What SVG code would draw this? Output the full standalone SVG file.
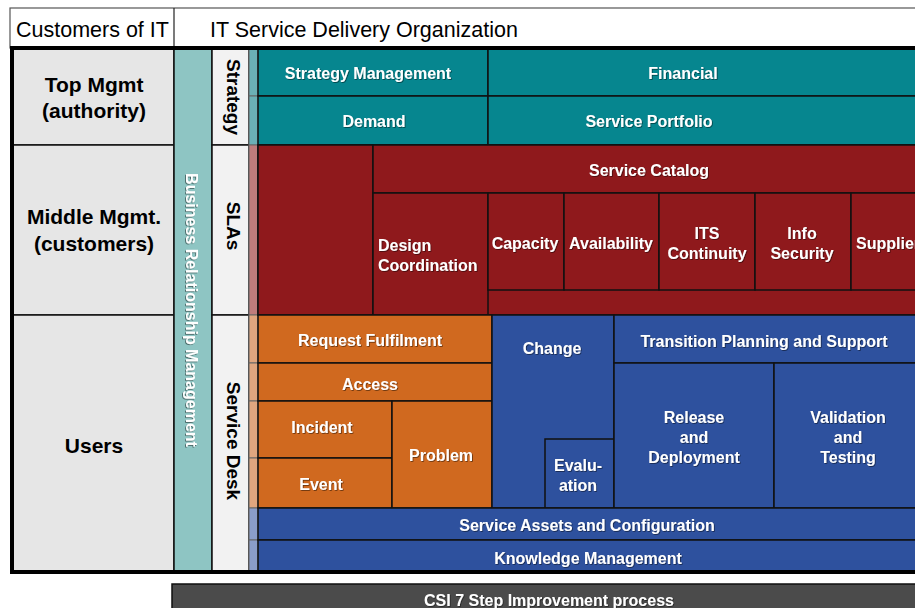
<svg xmlns="http://www.w3.org/2000/svg" width="915" height="608" viewBox="0 0 915 608">
<defs>
<style>
.b{stroke:#111;stroke-width:1.5}
.teal{fill:#06868f}
.red{fill:#8f191c}
.org{fill:#d0691f}
.blu{fill:#2e519e}
.w{font-family:"Liberation Sans",Arial,sans-serif;font-weight:bold;font-size:16px;fill:#fff;text-anchor:middle;filter:url(#sh)}
.wl{text-anchor:start}
.k{font-family:"Liberation Sans",Arial,sans-serif;font-weight:bold;font-size:21px;fill:#000;text-anchor:middle}
.v{font-family:"Liberation Sans",Arial,sans-serif;font-weight:bold;font-size:19px;fill:#000;text-anchor:middle}
.h{font-family:"Liberation Sans",Arial,sans-serif;font-size:21.5px;fill:#000}
</style>
<filter id="sh" x="-10%" y="-30%" width="120%" height="160%">
<feDropShadow dx="0.8" dy="0.8" stdDeviation="0.4" flood-color="#000" flood-opacity="0.55"/>
</filter>
</defs>
<rect width="915" height="608" fill="#fff"/>

<g id="header">
<rect x="10" y="8" width="920" height="40" fill="#fff" stroke="#555" stroke-width="1.2"/>
<line x1="174" y1="8" x2="174" y2="48" stroke="#222" stroke-width="1.2"/>
<text class="h" x="16" y="37">Customers of IT</text>
<text class="h" x="210" y="37">IT Service Delivery Organization</text>
</g>

<g id="customers">
<g id="top-mgmt"><rect class="b" x="12" y="48" width="162" height="97" fill="#e6e6e6"/>
<text class="k" x="94" y="92">Top Mgmt</text><text class="k" x="94" y="118">(authority)</text></g>
<g id="middle-mgmt"><rect class="b" x="12" y="145" width="162" height="170" fill="#e6e6e6"/>
<text class="k" x="94" y="224">Middle Mgmt.</text><text class="k" x="94" y="251">(customers)</text></g>
<g id="users"><rect class="b" x="12" y="315" width="162" height="257" fill="#e6e6e6"/>
<text class="k" x="94" y="453">Users</text></g>
</g>

<g id="brm"><rect class="b" x="174" y="48" width="38" height="524" fill="#8ec5c3"/>
<text transform="translate(186,310) rotate(90)" style="font-family:'Liberation Sans',Arial,sans-serif;font-weight:bold;font-size:16px;fill:#fff;text-anchor:middle;filter:url(#sh)">Business Relationship Management</text></g>

<g id="strategy-col"><rect class="b" x="212" y="48" width="37" height="97" fill="#f2f2f2"/>
<text class="v" transform="translate(227,97) rotate(90)">Strategy</text></g>
<g id="slas-col"><rect class="b" x="212" y="145" width="37" height="170" fill="#f2f2f2"/>
<text class="v" transform="translate(227,226) rotate(90)">SLAs</text></g>
<g id="servicedesk-col"><rect class="b" x="212" y="315" width="37" height="257" fill="#f2f2f2"/>
<text class="v" transform="translate(227,441) rotate(90)">Service Desk</text></g>

<g id="strip" stroke="#666" stroke-width="1">
<rect x="249" y="48" width="9" height="48" fill="#6bb0b6"/>
<rect x="249" y="96" width="9" height="49" fill="#6bb0b6"/>
<rect x="249" y="145" width="9" height="170" fill="#bf7c7c"/>
<rect x="249" y="315" width="9" height="48" fill="#e0a67f"/>
<rect x="249" y="363" width="9" height="38" fill="#e0a67f"/>
<rect x="249" y="401" width="9" height="57" fill="#e0a67f"/>
<rect x="249" y="458" width="9" height="50" fill="#e0a67f"/>
<rect x="249" y="508" width="9" height="32" fill="#8a9dc9"/>
<rect x="249" y="540" width="9" height="32" fill="#8a9dc9"/>
</g>

<g id="strategy-management"><rect class="b teal" x="258" y="48" width="230" height="48"/><text class="w" x="368" y="79">Strategy Management</text></g>
<g id="financial"><rect class="b teal" x="488" y="48" width="440" height="48"/><text class="w" x="683" y="79">Financial</text></g>
<g id="demand"><rect class="b teal" x="258" y="96" width="230" height="49"/><text class="w" x="374" y="127">Demand</text></g>
<g id="service-portfolio"><rect class="b teal" x="488" y="96" width="440" height="49"/><text class="w" x="649" y="127">Service Portfolio</text></g>

<g id="sla-area"><rect class="b red" x="258" y="145" width="670" height="170"/></g>
<g id="sla-left"><rect class="b red" x="258" y="145" width="115" height="170"/></g>
<g id="service-catalog"><rect class="b red" x="373" y="145" width="555" height="48"/><text class="w" x="649" y="176">Service Catalog</text></g>
<g id="design-coordination"><rect class="b red" x="373" y="193" width="115" height="122"/><text class="w wl" x="378" y="251">Design</text><text class="w wl" x="378" y="271">Coordination</text></g>
<g id="capacity"><rect class="b red" x="488" y="193" width="76" height="97"/><text class="w" x="525" y="249">Capacity</text></g>
<g id="availability"><rect class="b red" x="564" y="193" width="95" height="97"/><text class="w" x="611" y="249">Availability</text></g>
<g id="its-continuity"><rect class="b red" x="659" y="193" width="96" height="97"/><text class="w" x="707" y="239">ITS</text><text class="w" x="707" y="259">Continuity</text></g>
<g id="info-security"><rect class="b red" x="755" y="193" width="96" height="97"/><text class="w" x="802" y="239">Info</text><text class="w" x="802" y="259">Security</text></g>
<g id="supplier"><rect class="b red" x="851" y="193" width="90" height="97"/><text class="w wl" x="856" y="249">Supplier</text></g>

<g id="request-fulfilment"><rect class="b org" x="258" y="315" width="234" height="48"/><text class="w" x="370" y="346">Request Fulfilment</text></g>
<g id="access"><rect class="b org" x="258" y="363" width="234" height="38"/><text class="w" x="370" y="390">Access</text></g>
<g id="incident"><rect class="b org" x="258" y="401" width="134" height="57"/><text class="w" x="322" y="433">Incident</text></g>
<g id="event"><rect class="b org" x="258" y="458" width="134" height="50"/><text class="w" x="321" y="490">Event</text></g>
<g id="problem"><rect class="b org" x="392" y="401" width="100" height="107"/><text class="w" x="441" y="461">Problem</text></g>

<g id="change"><rect class="b blu" x="492" y="315" width="122" height="193"/><text class="w" x="552" y="354">Change</text></g>
<g id="evaluation"><rect class="b blu" x="545" y="439" width="69" height="69"/><text class="w" x="578" y="471">Evalu-</text><text class="w" x="578" y="491">ation</text></g>
<g id="transition-planning"><rect class="b blu" x="614" y="315" width="314" height="48"/><text class="w" x="764" y="347">Transition Planning and Support</text></g>
<g id="release-deployment"><rect class="b blu" x="614" y="363" width="160" height="145"/><text class="w" x="694" y="423">Release</text><text class="w" x="694" y="443">and</text><text class="w" x="694" y="463">Deployment</text></g>
<g id="validation-testing"><rect class="b blu" x="774" y="363" width="154" height="145"/><text class="w" x="848" y="423">Validation</text><text class="w" x="848" y="443">and</text><text class="w" x="848" y="463">Testing</text></g>
<g id="service-assets"><rect class="b blu" x="258" y="508" width="670" height="32"/><text class="w" x="587" y="531">Service Assets and Configuration</text></g>
<g id="knowledge-management"><rect class="b blu" x="258" y="540" width="670" height="32"/><text class="w" x="588" y="564">Knowledge Management</text></g>

<g id="frame"><rect x="12" y="48" width="930" height="524" fill="none" stroke="#000" stroke-width="4"/></g>

<g id="csi"><rect x="172" y="584" width="760" height="30" fill="#4b4b4b" stroke="#111" stroke-width="1.5"/><text class="w" x="549" y="606">CSI 7 Step Improvement process</text></g>

<g id="connectors"/>
</svg>
